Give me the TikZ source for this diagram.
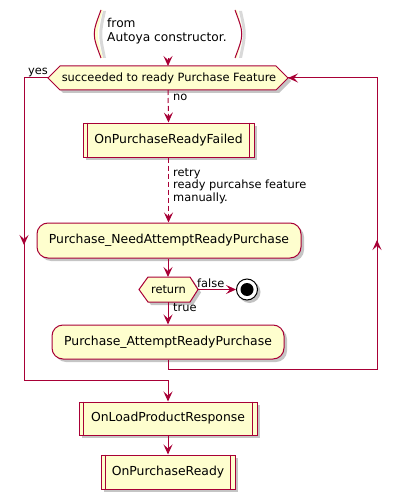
\documentclass[tikz,border=0pt]{standalone}
\usepackage{fontspec}
\setmainfont{DejaVu Sans}
\usetikzlibrary{arrows.meta,shadows,calc}
\definecolor{umlred}{HTML}{A80036}
\definecolor{umlfill}{HTML}{FEFECE}
\tikzset{
  x=1pt,y=-1pt,
  flow/.style={draw=umlred,line width=1pt,-{Stealth[length=10pt,width=9pt,inset=4pt]}},
  line/.style={draw=umlred,line width=1pt},
  dashflow/.style={flow,dash pattern=on 5pt off 3pt},
  shad/.style={drop shadow={shadow xshift=3pt,shadow yshift=-3pt,fill=black!45,opacity=0.5}},
  actbox/.style={draw=umlred,fill=umlfill,line width=1pt,rounded corners=11pt,shad,
    font=\fontsize{12.4}{14}\selectfont,inner sep=0pt,minimum height=34pt},
  subbox/.style={draw=umlred,fill=umlfill,line width=1pt,shad,
    font=\fontsize{12.4}{14}\selectfont,inner sep=0pt,minimum height=34pt},
  hexbox/.style={draw=umlred,fill=umlfill,line width=1pt,shad},
  hextext/.style={font=\fontsize{11.4}{13}\selectfont,inner sep=0pt},
  lbl/.style={font=\fontsize{11.4}{12.5}\selectfont,inner sep=0pt,align=left},
}
\begin{document}
\begin{tikzpicture}
\useasboundingbox (0,0) rectangle (401,500);
% start bracket label
\fill[black!15] (103,11) .. controls (98,34) .. (103,58) -- (106,58) .. controls (101,34) .. (106,11) -- cycle;
\fill[black!15] (239,11) .. controls (244,34) .. (239,58) -- (242,58) .. controls (247,34) .. (242,11) -- cycle;
\fill[umlfill] (101,10) .. controls (92,34) .. (101,58) -- (103,58) .. controls (96,34) .. (103,10) -- cycle;
\fill[umlfill] (235,10) .. controls (244,34) .. (235,58) -- (237,58) .. controls (244,34) .. (237,10) -- cycle;
\draw[line] (101,10) .. controls (92,34) .. (101,58);
\draw[line] (235,10) .. controls (244,34) .. (235,58);
\node[lbl,font=\fontsize{12.2}{14.5}\selectfont,anchor=north west] (start) at (107,18) {from\\Autoya constructor.};
\coordinate (startbot) at (168,58);

% decision 1
\path[hexbox] (48,78) -- (60,66) -- (276,66) -- (288,78) -- (276,90) -- (60,90) -- cycle;
\node[hextext,minimum width=240pt,minimum height=24pt] (d1) at (169,78) {succeeded to ready Purchase Feature};
\coordinate (d1w) at (48,78);
\coordinate (d1e) at (288,78);
\coordinate (d1s) at (168,90);
\coordinate (d1n) at (168,66);

% OnPurchaseReadyFailed
\node[subbox,minimum width=171pt] (f) at (168.5,140) {OnPurchaseReadyFailed};
\draw[line] ([xshift=5pt]f.north west) -- ([xshift=5pt]f.south west);
\draw[line] ([xshift=-5pt]f.north east) -- ([xshift=-5pt]f.south east);

% Purchase_NeedAttemptReadyPurchase
\node[actbox,minimum width=264pt,minimum height=35pt] (need) at (169,240.5) {Purchase\_NeedAttemptReadyPurchase};

% decision 2
\path[hexbox] (139,289.5) -- (148,277) -- (190,277) -- (198,289.5) -- (190,302) -- (148,302) -- cycle;
\node[hextext,minimum width=59pt,minimum height=25pt] (d2) at (168.5,289.5) {return};
\coordinate (d2e) at (198,289.5);
\coordinate (d2s) at (168,302);
\coordinate (d2n) at (168,277);

% stop
\fill[black!40,opacity=0.6] (249.5,292) circle (11pt);
\draw[black,fill=white,line width=1pt] (247,289.5) circle (10.5pt);
\node[circle,fill=black,minimum size=13pt,inner sep=0pt] (stop) at (247,289.5) {};
\coordinate (stopw) at (236,289.5);

% Purchase_AttemptReadyPurchase
\node[actbox,minimum width=232pt] (att) at (168,342) {Purchase\_AttemptReadyPurchase};

% OnLoadProductResponse
\node[subbox,minimum width=178pt,minimum height=33pt] (load) at (168,418.5) {OnLoadProductResponse};
\draw[line] ([xshift=5pt]load.north west) -- ([xshift=5pt]load.south west);
\draw[line] ([xshift=-5pt]load.north east) -- ([xshift=-5pt]load.south east);

% OnPurchaseReady
\node[subbox,minimum width=134pt] (ready) at (168,472) {OnPurchaseReady};
\draw[line] ([xshift=5pt]ready.north west) -- ([xshift=5pt]ready.south west);
\draw[line] ([xshift=-5pt]ready.north east) -- ([xshift=-5pt]ready.south east);

% connectors
\draw[flow] (startbot) -- (d1n);
\draw[dashflow] (d1s) -- (f.north);
\node[lbl,anchor=west] (nol) at (173,97.5) {no};
\draw[dashflow] (f.south) -- (need.north -| f.south);
\node[lbl,anchor=north west] (retry) at (173,168) {retry\\ready purcahse feature\\manually.};
\draw[flow] (need.south -| d2n) -- (d2n);
\draw[flow] (d2e) -- (stopw);
\node[lbl,anchor=south west] (falsel) at (197,288) {false};
\draw[flow] (d2s) -- (att.north);
\node[lbl,anchor=west] (truel) at (173,307.5) {true};
% back loop
\coordinate (lb1) at (168,369);
\coordinate (lb2) at (377,369);
\coordinate (lb3) at (377,78);
\draw[line] (att.south) -- (lb1) -- (lb2) -- (lb3) -- (d1e);
\draw[flow] (lb2) -- (377,240);
\draw[flow] (lb3) -- (d1e);
% yes branch
\coordinate (y1) at (24,78);
\coordinate (y2) at (24,380);
\coordinate (y3) at (168,380);
\draw[line] (d1w) -- (y1) -- (y2) -- (y3);
\draw[flow] (y1) -- (24,245);
\draw[flow] (y3) -- (load.north);
\node[lbl,anchor=south west] (yesl) at (28,77) {yes};
\draw[flow] (load.south) -- (ready.north);
\end{tikzpicture}
\end{document}
